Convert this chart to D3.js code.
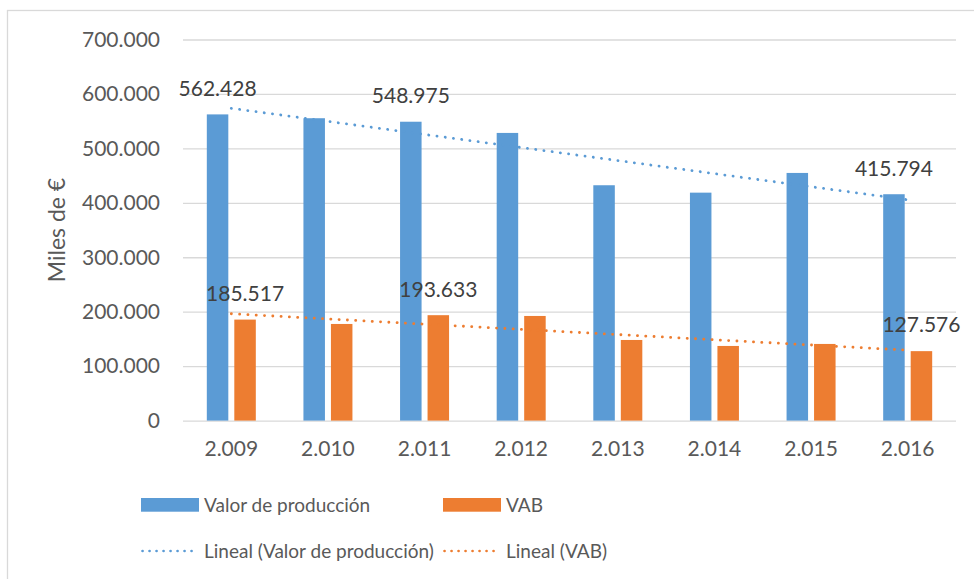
<!DOCTYPE html>
<html>
<head>
<meta charset="utf-8">
<script src="https://cdn.jsdelivr.net/npm/d3@7"></script>
<style>
  html, body { margin: 0; padding: 0; background: #fff; }
  svg text { font-family: Lato, "Open Sans", sans-serif; }
</style>
</head>
<body>
<div id="chart"></div>
<script>
// datos
const years = ['2.009', '2.010', '2.011', '2.012', '2.013', '2.014', '2.015', '2.016'];
const valorProduccion = [562428, 555400, 548975, 528400, 432300, 418700, 454900, 415794];
const vab = [185517, 177500, 193633, 192200, 148100, 137100, 140800, 127576];
const yTicks = [0, 100000, 200000, 300000, 400000, 500000, 600000, 700000];
// solo algunas etiquetas de datos se muestran
const labeledYears = ['2.009', '2.011', '2.016'];

const series = [
  { key: 'vp', name: 'Valor de producción', values: valorProduccion, color: '#5b9bd5' },
  { key: 'vab', name: 'VAB', values: vab, color: '#ed7d31' }
];

const width = 974, height = 579;
const plot = { left: 183, right: 956, top: 39.5, bottom: 420.6 };

const svg = d3.select('#chart').append('svg')
  .attr('width', width)
  .attr('height', height);

// borde del área del gráfico
svg.append('rect')
  .attr('x', 7.5).attr('y', 10.5)
  .attr('width', 1000).attr('height', 1000)
  .style('fill', 'none')
  .style('stroke', '#d9d9d9')
  .style('stroke-width', 1.3);

const x = d3.scaleBand().domain(years).range([plot.left, plot.right]).padding(0);
const xSub = d3.scaleBand().domain(series.map(s => s.key)).range([-24.5, 24.5]).paddingInner(0.218);
const y = d3.scaleLinear().domain([0, 700000]).range([plot.bottom, plot.top]);

const locale = d3.formatLocale({ decimal: ',', thousands: '.', grouping: [3], currency: ['', '€'] });
const fmt = locale.format(',d');

// líneas de cuadrícula y etiquetas del eje Y
const yAxis = d3.axisLeft(y)
  .tickValues(yTicks)
  .tickFormat(fmt)
  .tickSize(-(plot.right - plot.left))
  .tickPadding(23);

const gy = svg.append('g')
  .attr('transform', `translate(${plot.left},0)`)
  .call(yAxis);
gy.select('.domain').remove();
gy.selectAll('.tick line')
  .style('stroke', '#d9d9d9')
  .style('stroke-width', 1.3);
gy.selectAll('.tick text')
  .style('font-size', '21px')
  .style('fill', '#595959');

// eje X
const gx = svg.append('g')
  .attr('transform', `translate(0,${plot.bottom})`)
  .call(d3.axisBottom(x).tickSize(0).tickPadding(20));
gx.select('.domain').remove();
gx.selectAll('.tick text')
  .style('font-size', '21px')
  .style('fill', '#595959');

// título del eje Y
svg.append('text')
  .attr('transform', `translate(65,${(plot.top + plot.bottom) / 2}) rotate(-90)`)
  .attr('text-anchor', 'middle')
  .style('font-size', '23px')
  .style('fill', '#595959')
  .text('Miles de €');

// barras
series.forEach(s => {
  svg.append('g').selectAll('rect')
    .data(years.map((yr, i) => ({ yr, v: s.values[i] })))
    .join('rect')
    .attr('x', d => x(d.yr) + x.bandwidth() / 2 + xSub(s.key))
    .attr('y', d => y(d.v))
    .attr('width', xSub.bandwidth())
    .attr('height', d => y(0) - y(d.v))
    .style('fill', s.color);
});

// líneas de tendencia (regresión lineal)
series.forEach(s => {
  const n = s.values.length;
  const xs = d3.range(1, n + 1);
  const mx = d3.mean(xs), my = d3.mean(s.values);
  const slope = d3.sum(xs, (xi, i) => (xi - mx) * (s.values[i] - my)) / d3.sum(xs, xi => (xi - mx) ** 2);
  const b = my - slope * mx;
  const pts = [[years[0], b + slope * 1], [years[n - 1], b + slope * n]];
  svg.append('path')
    .attr('d', d3.line().x(d => x(d[0]) + x.bandwidth() / 2).y(d => y(d[1]))(pts))
    .style('fill', 'none')
    .style('stroke', s.color)
    .style('stroke-width', 2.8)
    .style('stroke-linecap', 'round')
    .style('stroke-dasharray', '0.1,8.2');
});

// etiquetas de datos
series.forEach(s => {
  svg.append('g').selectAll('text')
    .data(years.map((yr, i) => ({ yr, v: s.values[i] })).filter(d => labeledYears.includes(d.yr)))
    .join('text')
    .attr('x', d => x(d.yr) + x.bandwidth() / 2 + xSub(s.key) + xSub.bandwidth() / 2)
    .attr('y', d => y(d.v) - 26)
    .attr('dy', '0.35em')
    .attr('text-anchor', 'middle')
    .style('font-size', '21px')
    .style('fill', '#404040')
    .text(d => fmt(d.v));
});

// leyenda
const legendCols = [141, 443];
const legend = svg.append('g');
series.forEach((s, i) => {
  legend.append('rect')
    .attr('x', legendCols[i]).attr('y', 498)
    .attr('width', 58).attr('height', 13.7)
    .style('fill', s.color);
  legend.append('text')
    .attr('x', legendCols[i] + 63).attr('y', 505)
    .attr('dy', '0.35em')
    .style('font-size', '19px')
    .style('fill', '#595959')
    .text(s.name);
  legend.append('line')
    .attr('x1', legendCols[i] + 1.5).attr('x2', legendCols[i] + 57)
    .attr('y1', 551).attr('y2', 551)
    .style('stroke', s.color)
    .style('stroke-width', 2.6)
    .style('stroke-linecap', 'round')
    .style('stroke-dasharray', '0.1,6.9');
  legend.append('text')
    .attr('x', legendCols[i] + 63).attr('y', 551)
    .attr('dy', '0.35em')
    .style('font-size', '19px')
    .style('fill', '#595959')
    .text(`Lineal (${s.name})`);
});
</script>
</body>
</html>
